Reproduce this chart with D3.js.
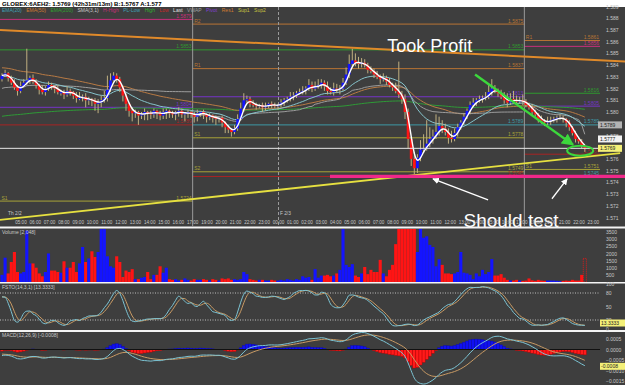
<!DOCTYPE html>
<html>
<head>
<meta charset="utf-8">
<script src="https://cdn.jsdelivr.net/npm/d3@7"></script>
<style>
body { margin: 0; background: #ffffff; }
svg { display: block; font-family: "Liberation Sans", Arial, sans-serif; }
</style>
</head>
<body>
<svg id="chart" width="625" height="385"></svg>
<script>
// 6A (AUD) futures, 13 minute bars
var closes = [
 1.5831,1.5833,1.5829,1.5825,1.5821,1.5818,1.5822,1.5825,1.5827,1.5829,
 1.5826,1.5823,1.5819,1.5817,1.5820,1.5823,1.5822,1.5820,1.5817,1.5817,
 1.5815,1.5818,1.5817,1.5814,1.5812,1.5812,1.5813,1.5810,1.5811,1.5810,
 1.5807,1.5808,1.5810,1.5812,1.5819,1.5827,1.5831,1.5828,1.5821,1.5814,
 1.5807,1.5801,1.5799,1.5800,1.5797,1.5798,1.5800,1.5799,1.5798,1.5801,
 1.5799,1.5797,1.5800,1.5801,1.5799,1.5798,1.5800,1.5801,1.5798,1.5799,
 1.5800,1.5798,1.5796,1.5799,1.5800,1.5798,1.5796,1.5797,1.5795,1.5794,
 1.5795,1.5791,1.5787,1.5785,1.5783,1.5786,1.5794,1.5803,1.5810,1.5811,
 1.5807,1.5806,1.5805,1.5806,1.5804,1.5805,1.5807,1.5806,1.5805,1.5806,
 1.5808,1.5810,1.5811,1.5813,1.5814,1.5816,1.5817,1.5818,1.5820,1.5823,
 1.5820,1.5822,1.5823,1.5825,1.5822,1.5818,1.5817,1.5820,1.5819,1.5820,
 1.5825,1.5832,1.5841,1.5844,1.5842,1.5841,1.5842,1.5840,1.5836,1.5835,
 1.5832,1.5830,1.5828,1.5829,1.5826,1.5823,1.5821,1.5818,1.5815,1.5811,
 1.5800,1.5777,1.5760,1.5752,1.5761,1.5768,1.5769,1.5773,1.5777,1.5779,
 1.5783,1.5788,1.5786,1.5783,1.5778,1.5777,1.5782,1.5787,1.5791,1.5796,
 1.5801,1.5806,1.5808,1.5810,1.5811,1.5812,1.5813,1.5817,1.5820,1.5818,
 1.5816,1.5813,1.5810,1.5808,1.5811,1.5810,1.5809,1.5810,1.5809,1.5806,
 1.5804,1.5800,1.5798,1.5794,1.5792,1.5791,1.5792,1.5793,1.5794,1.5795,
 1.5795,1.5794,1.5791,1.5787,1.5782,1.5777,1.5775,1.5771,1.5769];
var firstOpen = 1.5828;
// wick lengths beyond the body, in pips
var wickHi = [
 2,3,1,2,3,2,4,3,27,2, 3,2,1,4,2,3,2,1,3,2, 2,4,2,1,3,5,2,3,2,1,
 2,3,4,6,12,6,3,2,2,1, 2,1,3,2,1,2,3,1,2,2, 1,2,3,2,1,2,1,3,2,1,
 2,1,2,3,1,2,1,2,1,2, 1,2,1,2,1,3,4,5,6,3, 2,3,2,1,2,3,1,2,2,1,
 3,2,2,4,3,2,3,4,2,5, 3,4,5,3,2,4,3,5,4,3, 4,6,8,10,6,5,4,3,2,3,
 2,3,2,4,2,3,2,4,25,3, 4,3,2,6,3,8,12,20,10,6, 15,8,5,4,3,6,4,3,2,3,
 2,3,4,2,3,2,4,6,8,3, 2,3,4,6,5,7,4,3,5,2, 2,3,2,1,3,2,4,3,2,2,
 3,2,1,2,1,2,1,2,1];
var wickLo = [
 2,1,3,2,2,4,2,1,2,3, 2,3,4,2,3,2,3,4,2,3, 4,2,3,3,4,2,3,6,4,5,
 6,8,4,2,3,2,1,3,4,5, 6,5,7,4,8,3,5,6,4,3, 5,4,3,6,4,3,5,4,3,6,
 4,3,5,4,3,4,5,3,4,5, 3,4,5,3,4,2,2,1,3,2, 3,2,3,2,4,3,2,3,2,3,
 2,3,2,2,3,2,1,2,3,2, 3,2,2,3,4,3,2,3,3,4, 2,2,3,2,3,4,3,2,3,2,
 3,2,4,2,3,2,3,2,3,4, 6,8,6,5,4,3,3,2,3,4, 2,3,4,3,5,3,2,3,2,2,
 2,3,2,3,2,3,2,2,3,2, 3,2,3,4,2,3,3,2,3,2, 2,3,2,3,2,3,2,3,2,3,
 2,3,4,3,2,3,2,2,3];
var volumes = [
 500,1700,600,1400,2100,700,600,700,3600,1300,
 1300,1000,600,400,700,2000,800,800,700,650,
 1450,1000,1000,1400,700,1300,2450,1400,1650,2150,
 1750,2100,3700,3700,1800,1100,1000,1800,1400,350,
 800,700,900,200,200,300,350,700,200,500,
 500,1100,650,1000,200,150,200,100,150,250,
 150,100,200,150,150,200,150,100,200,150,
 100,250,200,250,150,200,150,200,700,550,
 200,150,100,150,150,100,100,150,100,100,
 150,100,200,150,100,200,150,400,300,350,
 150,900,300,450,450,500,400,450,600,850,
 3700,1200,1050,1250,450,350,600,1050,550,850,
 700,700,1550,600,400,850,1200,2650,3800,3800,
 3800,3800,3800,3800,2100,3800,3100,3200,2600,2450,
 1100,1600,1200,600,600,550,600,700,2100,650,
 600,500,200,600,400,850,550,700,1600,450,
 450,550,300,150,100,100,150,100,80,100,
 250,120,80,150,100,80,100,100,100,80,
 60,80,100,80,150,100,100,500,1650];

// indicator state carried in from before the visible window
var ema20Seed = 1.5830, ema50Seed = 1.5838, ema200Seed = 1.5796;
var ema12Seed = 1.5833, ema26Seed = 1.5836, signalSeed = -0.0002;
var vwapSeedPrice = 1.5820, vwapSeedVolume = 30000;

var sessionStart = [62, 169];
var barsPerHour = 60 / 13;
var hourLabels = ["05:00","06:00","07:00","08:00","09:00","10:00","11:00","12:00","13:00","14:00","15:00","16:00","17:00",
 "19:00","20:00","21:00","22:00","23:00","00:00","01:00","02:00","03:00","04:00","05:00","06:00","07:00","08:00","09:00",
 "10:00","11:00","12:00","13:00","14:00","15:00","16:00","17:00","19:00","20:00","21:00","22:00","23:00"];
var firstLabelHour = -12;
var dayLabels = [["Th 2/2", -12.9], ["F 2/3", 6.1]];

// session pivot levels [kind, price]
var levelsA = [["hhigh",1.5879],["high",1.5853],["pivot",1.5804],["low",1.5789],["sup1",1.5724]];
var levelsB = [["res2",1.5875],["high",1.5853],["res1",1.5837],["pivot",1.5813],["pllow",1.5789],["sup1",1.5778],["sup2",1.5749],["low",1.5745]];
var levelsC = [["res1",1.5861],["hhigh",1.5856],["high",1.5816],["pivot",1.5805],["pllow",1.5789],["low",1.5764],["sup1",1.5751],["pllow",1.5745]];
var lastPrice = 1.5769;
var axisMarks = [[1.5789, "gray"], [1.5777, "white"], [1.5769, "last"]];

// hand drawn annotations [bar, price]
var orangeTrend = [[-0.65, 1.5870], [201, 1.5843]];
var yellowTrend = [[-0.65, 1.5708], [199.4, 1.5765]];
var pinkLine = [[105.8, 1.5745], [201, 1.5745]];
var greenArrow = [[152.6, 1.5832], [184.2, 1.5772]];
var greenCircle = [186.5, 1.5767];
var whiteArrows = [[[156.8, 1.5725], [139, 1.5743]], [[177.4, 1.5726], [182.3, 1.5743]]];
var notes = [["Took Profit", 138, 1.5851, 18], ["Should test", 164.2, 1.5702, 19]];

var titleText = "GLOBEX:6AEH2: 1.5769 (42h31m/13m)  B:1.5767 A:1.577";
var legendNames = ["EMA(20)","EMA(50)","EMA(200)","SMA(3,1)","H-High","PL-Low","High","Low","Last","VWAP","Pivot","Res1","Sup1","Sup2"];
var legendColors = ["#3ea0b4","#d07a30","#2fa02f","#c8c8c8","#c8307c","#3ea0b4","#2fb02f","#c82828","#e0e0e0","#a0a0a0","#8040d0","#d07a30","#c8c040","#c8c040"];

var kindColor = {hhigh:"#c8307c", high:"#2f9a2f", low:"#a82424", pllow:"#3e9aa6", pivot:"#7634c8",
    res1:"#b87434", res2:"#b87434", sup1:"#a8a238", sup2:"#a8a238"};
var kindTag = {res1:"R1", res2:"R2", sup1:"S1", sup2:"S2"};

// ---------- derived series ----------
var n = closes.length;
var opens = closes.map(function (c, i) { return i == 0 ? firstOpen : closes[i - 1]; });
var highs = closes.map(function (c, i) { return Math.max(c, opens[i]) + wickHi[i] * 0.0001; });
var lows = closes.map(function (c, i) { return Math.min(c, opens[i]) - wickLo[i] * 0.0001; });

function ema(arr, len, seed) {
    var k = 2 / (len + 1), prev = seed;
    return arr.map(function (v) { prev = prev + k * (v - prev); return prev; });
}
function sma(arr, len) {
    return arr.map(function (v, i) { return d3.mean(arr.slice(Math.max(0, i - len + 1), i + 1)); });
}
var ema20 = ema(closes, 20, ema20Seed), ema50 = ema(closes, 50, ema50Seed), ema200 = ema(closes, 200, ema200Seed);
var sma3 = sma(closes, 3);
var macd = d3.zip(ema(closes, 12, ema12Seed), ema(closes, 26, ema26Seed)).map(function (p) { return p[0] - p[1]; });
var signal = ema(macd, 9, signalSeed);
var hist = macd.map(function (m, i) { return m - signal[i]; });

var rawK = closes.map(function (c, i) {
    var lo = d3.min(lows.slice(Math.max(0, i - 13), i + 1)), hi = d3.max(highs.slice(Math.max(0, i - 13), i + 1));
    return hi > lo ? (c - lo) / (hi - lo) * 100 : 50;
});
var stochK = sma(rawK, 3), stochD = sma(stochK, 3);

var vwap = [];
var pv = vwapSeedPrice * vwapSeedVolume, vv = vwapSeedVolume;
for (var i = 0; i < n; i++) {
    if (sessionStart.indexOf(i) >= 0) { pv = 0; vv = 0; }
    pv += (highs[i] + lows[i] + closes[i]) / 3 * volumes[i];
    vv += volumes[i];
    vwap.push(pv / vv);
}

// ---------- layout ----------
var svg = d3.select("#chart");
var plotW = 600;
var x = d3.scaleLinear().domain([-0.645, 192.9]).range([0, plotW]);
var y = d3.scaleLinear().domain([1.571, 1.589]).range([217.5, 6.5]);
var yVol = d3.scaleLinear().domain([0, 3500]).range([282, 232]);
var ySto = d3.scaleLinear().domain([0, 100]).range([329, 284]);
var yMacd = d3.scaleLinear().domain([-0.0015, 0.0005]).range([381, 339]);
var hourX = function (h) { return x(sessionStart[0] - 0.5 + h * barsPerHour); };
var idx = d3.range(n);

svg.append("rect").attr("width", 625).attr("height", 385).attr("fill", "#3e3e3e");
svg.append("rect").attr("width", 625).attr("height", 7).attr("fill", "#ffffff");
svg.append("text").attr("x", 2).attr("y", 5.6).attr("font-size", 6).attr("font-weight", "bold")
    .attr("fill", "#000").text(titleText);

var defs = svg.append("defs");
function clip(id, x0, y0, w, h) {
    defs.append("clipPath").attr("id", id).append("rect").attr("x", x0).attr("y", y0).attr("width", w).attr("height", h);
}
clip("cMain", 0, 7, plotW, 219);
clip("cWide", 0, 7, 625, 219);
clip("cVol", 0, 229, plotW, 53);
clip("cSto", 0, 284, plotW, 46);
clip("cMacd", 0, 332, plotW, 53);
function marker(id, color) {
    defs.append("marker").attr("id", id).attr("viewBox", "0 0 10 10").attr("refX", 9).attr("refY", 5)
        .attr("markerWidth", 5).attr("markerHeight", 5).attr("orient", "auto")
        .append("path").attr("d", "M0,0L10,5L0,10z").attr("fill", color);
}
marker("arW", "#ffffff");
marker("arG", "#3cd83c");

var main = svg.append("g").attr("clip-path", "url(#cMain)");

// legend row
var lx = 2;
legendNames.forEach(function (name, k) {
    var t = svg.append("text").attr("x", lx).attr("y", 11.5).attr("font-size", 5).attr("fill", legendColors[k]).text(name);
    lx += t.node().getComputedTextLength() + 4.5;
});

// session pivot levels
var sessionEdges = [x(-0.645), x(sessionStart[0] - 0.5), x(sessionStart[1] - 0.5), plotW];
[levelsA, levelsB, levelsC].forEach(function (lv, s) {
    var x0 = sessionEdges[s], x1 = sessionEdges[s + 1];
    lv.forEach(function (d) {
        var col = kindColor[d[0]];
        main.append("line").attr("x1", x0).attr("x2", x1).attr("y1", y(d[1])).attr("y2", y(d[1]))
            .attr("stroke", col).attr("stroke-width", 1);
        main.append("text").attr("x", x1 - 1).attr("y", y(d[1]) - 1.5).attr("text-anchor", "end")
            .attr("font-size", 5).attr("fill", col).text(d3.format(".4f")(d[1]));
        if (kindTag[d[0]]) {
            main.append("text").attr("x", x0 + 1.5).attr("y", y(d[1]) - 1.5).attr("font-size", 5)
                .attr("fill", col).text(kindTag[d[0]]);
        }
    });
});

// session separators and day break
[1, 2].forEach(function (k) {
    main.append("line").attr("x1", sessionEdges[k]).attr("x2", sessionEdges[k]).attr("y1", 7).attr("y2", 226)
        .attr("stroke", "#9a9a9a").attr("stroke-width", 1);
});
main.append("line").attr("x1", hourX(6)).attr("x2", hourX(6)).attr("y1", 7).attr("y2", 226)
    .attr("stroke", "#9a9a9a").attr("stroke-dasharray", "3,2");

// moving averages
function drawLine(g, data, ys, color, w, curve) {
    g.append("path").datum(idx).attr("fill", "none").attr("stroke", color).attr("stroke-width", w)
        .attr("d", d3.line().curve(curve || d3.curveLinear).x(function (i) { return x(i); }).y(function (i) { return ys(data[i]); }));
}
drawLine(main, ema200, y, "#2e9a36", 1);
drawLine(main, ema50, y, "#b87a44", 1);
[[0, sessionStart[0]], [sessionStart[0], sessionStart[1]], [sessionStart[1], n]].forEach(function (r) {
    main.append("path").datum(d3.range(r[0], r[1])).attr("fill", "none").attr("stroke", "#9c9c9c").attr("stroke-width", 1)
        .attr("d", d3.line().x(function (i) { return x(i); }).y(function (i) { return y(vwap[i]); }));
});
drawLine(main, ema20, y, "#86c4cc", 1);

// candles
var candle = main.append("g").selectAll("g").data(idx).enter().append("g");
candle.append("line").attr("x1", function (i) { return x(i); }).attr("x2", function (i) { return x(i); })
    .attr("y1", function (i) { return y(highs[i]); }).attr("y2", function (i) { return y(lows[i]); })
    .attr("stroke", "#c0b080").attr("stroke-width", 1);
candle.append("rect").attr("x", function (i) { return x(i) - 1.4; }).attr("width", 2.8)
    .attr("y", function (i) { return y(Math.max(opens[i], closes[i])); })
    .attr("height", function (i) { return Math.max(1.2, Math.abs(y(opens[i]) - y(closes[i]))); })
    .attr("fill", function (i) { return closes[i] >= opens[i] ? "#1414ff" : "#ff1414"; });

drawLine(main, sma3, y, "#ffffff", 1.4, d3.curveBasis);

// last price line
main.append("line").attr("x1", 0).attr("x2", plotW).attr("y1", y(lastPrice)).attr("y2", y(lastPrice))
    .attr("stroke", "#e8e8e8").attr("stroke-width", 1);

// annotations
var wide = svg.append("g").attr("clip-path", "url(#cWide)");
function seg(pts, color, w, mk) {
    var l = wide.append("line").attr("x1", x(pts[0][0])).attr("y1", y(pts[0][1])).attr("x2", x(pts[1][0])).attr("y2", y(pts[1][1]))
        .attr("stroke", color).attr("stroke-width", w);
    if (mk) l.attr("marker-end", "url(#" + mk + ")");
}
seg(orangeTrend, "#e08a2a", 2);
seg(yellowTrend, "#e6e040", 1.8);
seg(pinkLine, "#f0288a", 3.2);
seg(greenArrow, "#3cd83c", 2.4, "arG");
wide.append("ellipse").attr("cx", x(greenCircle[0])).attr("cy", y(greenCircle[1])).attr("rx", 13).attr("ry", 5)
    .attr("fill", "none").attr("stroke", "#3cd83c").attr("stroke-width", 2);
whiteArrows.forEach(function (a) { seg(a, "#ffffff", 1.3, "arW"); });

// price axis
var pAxis = svg.append("g").attr("transform", "translate(603,0)")
    .call(d3.axisRight(y).tickValues(d3.range(1571, 1590).map(function (v) { return v / 1000; }))
        .tickFormat(d3.format(".3f")).tickSize(0));
function styleAxis(g) {
    g.attr("font-size", 5).attr("font-family", null);
    g.select(".domain").remove();
    g.selectAll("text").attr("fill", "#c8c8c8");
}
styleAxis(pAxis);
var boxStyle = {gray: ["#b4b4b4", "#222"], white: ["#f2f2f2", "#222"], last: ["#f4f078", "#222"]};
axisMarks.forEach(function (m) {
    var st = boxStyle[m[1]];
    svg.append("rect").attr("x", 598).attr("y", y(m[0]) - 3.5).attr("width", 24).attr("height", 7).attr("fill", st[0]);
    svg.append("text").attr("x", 600).attr("y", y(m[0]) + 2).attr("font-size", 5).attr("fill", st[1]).text(d3.format(".4f")(m[0]));
});

// notes over everything in the price panel
notes.forEach(function (t) {
    svg.append("text").attr("x", x(t[1])).attr("y", y(t[2])).attr("text-anchor", "middle")
        .attr("font-size", t[3]).attr("fill", "#ffffff").text(t[0]);
});

// time axis
var tAxis = svg.append("g").attr("transform", "translate(0,219)");
hourLabels.forEach(function (lab, k) {
    tAxis.append("text").attr("x", hourX(k + firstLabelHour)).attr("y", 5).attr("text-anchor", "middle")
        .attr("font-size", 4.6).attr("fill", "#c8c8c8").text(lab);
});
dayLabels.forEach(function (d) {
    svg.append("text").attr("x", Math.max(2, hourX(d[1]))).attr("y", 215).attr("font-size", 4.8)
        .attr("fill", "#c8c8c8").text(d[0]);
});

// panel separators
[[227.5, 2], [282.8, 1.6], [331, 2]].forEach(function (s) {
    svg.append("line").attr("x1", 0).attr("x2", 625).attr("y1", s[0]).attr("y2", s[0]).attr("stroke", "#f4f4f4").attr("stroke-width", s[1]);
});

// volume
var vol = svg.append("g").attr("clip-path", "url(#cVol)");
vol.selectAll("rect").data(idx).enter().append("rect")
    .attr("x", function (i) { return x(i) - 1.55; }).attr("width", 3.1)
    .attr("y", function (i) { return yVol(volumes[i]); })
    .attr("height", function (i) { return yVol(0) - yVol(volumes[i]); })
    .attr("fill", function (i) { return i == n - 1 ? "none" : (closes[i] >= opens[i] ? "#1414ff" : "#ff1414"); })
    .attr("stroke", function (i) { return i == n - 1 ? "#ff1414" : "none"; })
    .attr("stroke-dasharray", "1,1").attr("stroke-width", 0.8);
styleAxis(svg.append("g").attr("transform", "translate(603,0)")
    .call(d3.axisRight(yVol).tickValues(d3.range(500, 4000, 500)).tickFormat(d3.format("d")).tickSize(0)));
svg.append("text").attr("x", 2).attr("y", 233.5).attr("font-size", 5).attr("fill", "#c8c8c8").text("Volume [2,048]");

// stochastic
var sto = svg.append("g").attr("clip-path", "url(#cSto)");
[80, 20].forEach(function (v) {
    sto.append("line").attr("x1", 0).attr("x2", plotW).attr("y1", ySto(v)).attr("y2", ySto(v))
        .attr("stroke", "#bdbdbd").attr("stroke-dasharray", "1,1.5");
});
drawLine(sto, stochD, ySto, "#c89a64", 1, d3.curveMonotoneX);
drawLine(sto, stochK, ySto, "#7cc4d4", 1, d3.curveMonotoneX);
styleAxis(svg.append("g").attr("transform", "translate(603,0)")
    .call(d3.axisRight(ySto).tickValues([0, 20, 50, 80, 100]).tickSize(0)));
svg.append("text").attr("x", 2).attr("y", 288.5).attr("font-size", 5).attr("fill", "#c8c8c8").text("FSTO(14,3,1) [13.3333]");
svg.append("rect").attr("x", 600).attr("y", ySto(13.3333) - 3.5).attr("width", 25).attr("height", 7).attr("fill", "#f4f078");
svg.append("text").attr("x", 601).attr("y", ySto(13.3333) + 2).attr("font-size", 5).attr("fill", "#222").text("13.3333");

// MACD
var mg = svg.append("g").attr("clip-path", "url(#cMacd)");
mg.selectAll("rect").data(idx).enter().append("rect")
    .attr("x", function (i) { return x(i) - 1.55; }).attr("width", 3.1)
    .attr("y", function (i) { return Math.min(yMacd(0), yMacd(hist[i])); })
    .attr("height", function (i) { return Math.abs(yMacd(hist[i]) - yMacd(0)); })
    .attr("fill", function (i) { return hist[i] >= 0 ? "#1010f0" : "#ff1a1a"; })
    .attr("stroke", function (i) { return hist[i] >= 0 ? "#0a0ab0" : "#b00000"; }).attr("stroke-width", 0.4);
mg.append("line").attr("x1", 0).attr("x2", plotW).attr("y1", yMacd(0)).attr("y2", yMacd(0)).attr("stroke", "#111").attr("stroke-width", 1);
drawLine(mg, signal, yMacd, "#c89a64", 1, d3.curveMonotoneX);
drawLine(mg, macd, yMacd, "#7cc4d4", 1, d3.curveMonotoneX);
styleAxis(svg.append("g").attr("transform", "translate(603,0)")
    .call(d3.axisRight(yMacd).tickValues([0.0005, 0, -0.0005, -0.001, -0.0015]).tickFormat(d3.format(".4f")).tickSize(0)));
svg.append("text").attr("x", 2).attr("y", 337).attr("font-size", 5).attr("fill", "#c8c8c8").text("MACD(12,26,9) [-0.0008]");
svg.append("rect").attr("x", 600).attr("y", yMacd(-0.0008) - 3.5).attr("width", 25).attr("height", 7).attr("fill", "#f4f078");
svg.append("text").attr("x", 601).attr("y", yMacd(-0.0008) + 2).attr("font-size", 5).attr("fill", "#222").text("-0.0008");
</script>
</body>
</html>
